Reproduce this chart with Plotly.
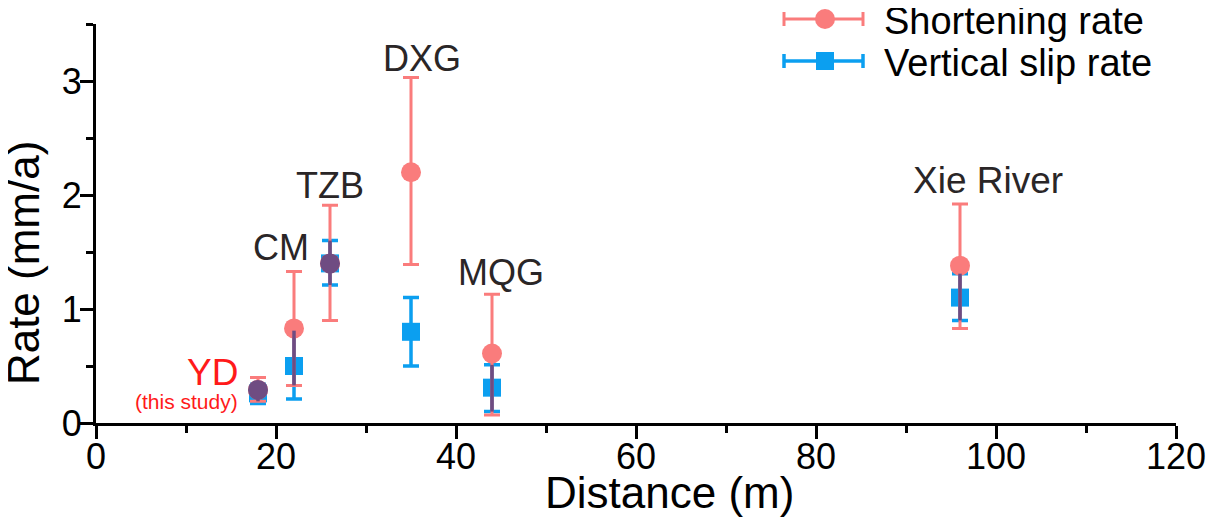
import plotly.graph_objects as go

# site data
sites = ['YD', 'CM', 'TZB', 'DXG', 'MQG', 'Xie River']
distance = [18, 22, 26, 35, 44, 96]

shorten = [0.29, 0.83, 1.40, 2.20, 0.61, 1.38]
shorten_hi = [0.40, 1.33, 1.91, 3.03, 1.13, 1.92]
shorten_lo = [0.19, 0.33, 0.90, 1.39, 0.07, 0.83]

vslip = [0.26, 0.50, 1.40, 0.80, 0.31, 1.10]
vslip_hi = [0.34, 0.81, 1.60, 1.10, 0.51, 1.31]
vslip_lo = [0.17, 0.21, 1.21, 0.50, 0.10, 0.90]

x_ticks = [0, 20, 40, 60, 80, 100, 120]
y_ticks = [0, 1, 2, 3]

RED = '#FA7C7C'
BLUE = '#0B9FF0'
PURPLE = '#6F4C82'
FONT = 'Liberation Sans, Arial, sans-serif'

fig = go.Figure()

# vertical slip rate (blue squares)
fig.add_trace(go.Scatter(
    x=distance, y=vslip, mode='markers', name='Vertical slip rate',
    marker=dict(symbol='square', size=18, color=BLUE),
    error_y=dict(type='data', symmetric=False,
                 array=[h - v for h, v in zip(vslip_hi, vslip)],
                 arrayminus=[v - l for v, l in zip(vslip, vslip_lo)],
                 color=BLUE, thickness=3.5, width=8),
    showlegend=False))

# shortening rate (red circles)
fig.add_trace(go.Scatter(
    x=distance, y=shorten, mode='markers', name='Shortening rate',
    marker=dict(symbol='circle', size=20, color=RED),
    error_y=dict(type='data', symmetric=False,
                 array=[h - v for h, v in zip(shorten_hi, shorten)],
                 arrayminus=[v - l for v, l in zip(shorten, shorten_lo)],
                 color=RED, thickness=3, width=8),
    showlegend=False))

# where the two error bars overlap the original figure shows a darker purple blend
ov_x, ov_y = [], []
for d, rl, rh, bl, bh in zip(distance, shorten_lo, shorten_hi, vslip_lo, vslip_hi):
    lo, hi = max(rl, bl), min(rh, bh)
    if hi > lo:
        ov_x += [d, d, None]
        ov_y += [lo, hi, None]
fig.add_trace(go.Scatter(x=ov_x, y=ov_y, mode='lines', line=dict(color=PURPLE, width=3.5),
                         showlegend=False, hoverinfo='skip'))

# markers sitting on top of each other
same_x = [d for d, s, v in zip(distance, shorten, vslip) if abs(s - v) < 0.1]
same_y = [s for s, v in zip(shorten, vslip) if abs(s - v) < 0.1]
fig.add_trace(go.Scatter(x=same_x, y=same_y, mode='markers',
                         marker=dict(symbol='circle', size=20, color=PURPLE),
                         showlegend=False, hoverinfo='skip'))

# site labels
label_pos = {'CM': (20.6, 1.54), 'TZB': (26.0, 2.08), 'DXG': (36.2, 3.2),
             'MQG': (45.0, 1.32), 'Xie River': (99.1, 2.13)}
for s in sites:
    if s in label_pos:
        lx, ly = label_pos[s]
        fig.add_annotation(x=lx, y=ly, text=s, showarrow=False, xanchor='center', yanchor='middle',
                           font=dict(family=FONT, size=36 if s != 'Xie River' else 37,
                                     color='#2A2627'))
fig.add_annotation(x=16.0, y=0.44, text='YD', showarrow=False, xanchor='right', yanchor='middle',
                   font=dict(family=FONT, size=37, color='#FF1A1A'))
fig.add_annotation(x=16.0, y=0.19, text='(this study)', showarrow=False, xanchor='right',
                   yanchor='middle', font=dict(family=FONT, size=21, color='#FF1A1A'))

# axis titles placed by hand (they are off-centre in the original)
fig.add_annotation(x=-0.0675, y=0.401, xref='paper', yref='paper', text='Rate (mm/a)',
                   textangle=-90, showarrow=False, xanchor='center', yanchor='middle',
                   font=dict(family=FONT, size=44, color='black'))
fig.add_annotation(x=0.5306, y=-0.241, xref='paper', yref='paper', text='Distance (m)',
                   showarrow=False, xanchor='center', yanchor='bottom',
                   font=dict(family=FONT, size=44, color='black'))

# hand drawn legend (error bar style symbols), positions in screen px of the plot area
px_w, px_h = 1080, 399
def px(xp):
    return (xp - 96) / px_w
def py(yp):
    return (423 - yp) / px_h

legend_items = [('Shortening rate', RED, 'circle', 19, 3),
                ('Vertical slip rate', BLUE, 'square', 61, 3.5)]
for txt, col, sym, yy, lw in legend_items:
    fig.add_shape(type='line', xref='paper', yref='paper', x0=px(784), x1=px(863),
                  y0=py(yy), y1=py(yy), line=dict(color=col, width=lw))
    for xe in (784, 863):
        fig.add_shape(type='line', xref='paper', yref='paper', x0=px(xe), x1=px(xe),
                      y0=py(yy - 7), y1=py(yy + 7), line=dict(color=col, width=lw))
    r = 10 if sym == 'circle' else 9
    fig.add_shape(type=sym == 'circle' and 'circle' or 'rect', xref='paper', yref='paper',
                  x0=px(825 - r), x1=px(825 + r), y0=py(yy - r), y1=py(yy + r),
                  fillcolor=col, line=dict(width=0))
    fig.add_annotation(x=px(882), y=py(yy + 2), xref='paper', yref='paper', text=txt,
                       xanchor='left', yanchor='middle', showarrow=False,
                       font=dict(family=FONT, size=38, color='black'))

fig.update_xaxes(range=[0, 120], tickvals=x_ticks, showgrid=False, zeroline=False,
                 showline=True, linecolor='black', linewidth=3,
                 ticks='outside', ticklen=13, tickwidth=3, tickcolor='black',
                 ticklabelstandoff=-13,
                 minor=dict(dtick=10, ticks='outside', ticklen=7, tickwidth=3, tickcolor='black'),
                 tickfont=dict(family=FONT, size=36, color='black'))
fig.update_yaxes(range=[0, 3.5], tickvals=y_ticks, showgrid=False, zeroline=False,
                 showline=True, linecolor='black', linewidth=3,
                 ticks='outside', ticklen=13, tickwidth=3, tickcolor='black',
                 ticklabelstandoff=-9,
                 minor=dict(dtick=0.5, ticks='outside', ticklen=7, tickwidth=3, tickcolor='black'),
                 tickfont=dict(family=FONT, size=36, color='black'))

# page body has an 8px margin, so the plot area is shifted back by that amount
fig.update_layout(width=1215, height=520, plot_bgcolor='white', paper_bgcolor='white',
                  margin=dict(l=88, r=47, t=16, b=105), showlegend=False)

fig.write_html("out.html")
